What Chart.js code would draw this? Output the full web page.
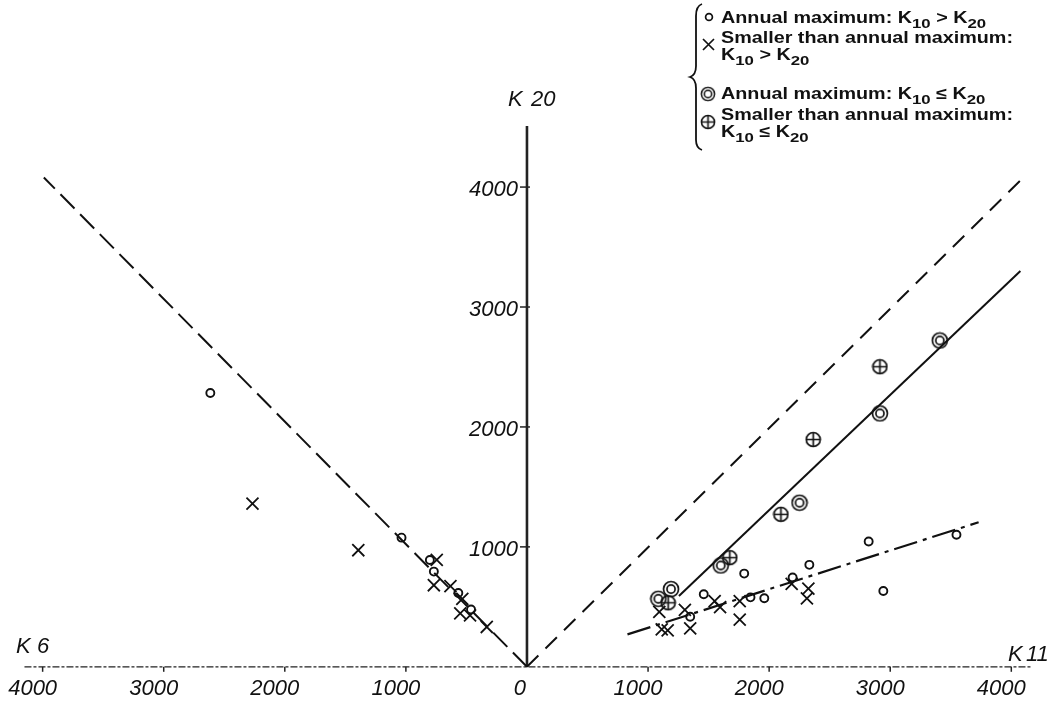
<!DOCTYPE html>
<html>
<head>
<meta charset="utf-8">
<script src="https://cdn.jsdelivr.net/npm/chart.js@4.4.0/dist/chart.umd.min.js"></script>
<style>
html,body{margin:0;padding:0;background:#fff;}
#wrap{width:1056px;height:715px;position:relative;}
</style>
</head>
<body>
<div id="wrap"><canvas id="myChart"></canvas></div>
<script>
// K6 is drawn on the negative side of x, K11 on the positive side, K20 upward
var xTicks = [-4000, -3000, -2000, -1000, 0, 1000, 2000, 3000, 4000];
var yTicks = [1000, 2000, 3000, 4000];

// o  Annual maximum: K10 > K20
var annualGt = [
	[-2615, 2283], [-1036, 1077], [-802, 891], [-769, 794], [-567, 615], [-462, 478],
	[1460, 605], [1348, 417], [1846, 579], [1960, 571], [1794, 777], [2194, 745],
	[2332, 850], [2822, 1045], [2943, 632], [3547, 1101]
];
// x  Smaller than annual maximum: K10 > K20
var smallerGt = [
	[-2267, 1360], [-1393, 972], [-745, 891], [-769, 680], [-632, 672], [-534, 567],
	[-551, 445], [-470, 429], [-332, 332],
	[1093, 458], [1304, 474], [1113, 312], [1162, 304], [1348, 320], [1550, 547],
	[1595, 498], [1757, 547], [1757, 393], [2186, 692], [2324, 652], [2312, 571]
];
// double circle  Annual maximum: K10 <= K20
var annualLe = [
	[1085, 567], [1190, 648], [1600, 845], [2251, 1368], [2915, 2113], [3409, 2721]
];
// crossed circle  Smaller than annual maximum: K10 <= K20
var smallerLe = [
	[1166, 534], [1675, 910], [2097, 1271], [2364, 1895], [2915, 2502]
];

// reference lines
var lineK6 = [[0, 0], [-3990, 4080]];
var lineK11 = [[0, 0], [4080, 4060]];
var lineSolid = [[1255, 590], [4075, 3300]];
var lineDashDot = [[830, 270], [3730, 1205]];

function pts(arr){
	return arr.map(function(p){ return {x: p[0], y: p[1]}; });
}

// 원 모양 마커 (◎, ⊗)
function makeMarker(kind, size){
	var c = document.createElement('canvas');
	c.width = size; c.height = size;
	var g = c.getContext('2d');
	var m = size / 2;
	g.strokeStyle = '#111';
	g.lineWidth = 1.7;
	g.beginPath(); g.arc(m, m, m - 1.5, 0, Math.PI * 2); g.stroke();
	if (kind == 'double') {
		g.beginPath(); g.arc(m, m, m * 0.45, 0, Math.PI * 2); g.stroke();
	} else {
		g.beginPath();
		g.moveTo(m, 2); g.lineTo(m, size - 2);
		g.moveTo(2, m); g.lineTo(size - 2, m);
		g.stroke();
	}
	return c;
}
var markDouble = makeMarker('double', 18);
var markCross = makeMarker('cross', 17);

function lineSet(arr, dash, width){
	return {
		data: pts(arr), showLine: true, pointRadius: 0, borderColor: '#111',
		borderWidth: width, borderDash: dash, fill: false
	};
}

var axesPlugin = {
	id: 'axes',
	beforeDatasetsDraw: function(chart){
		var ctx = chart.ctx, xs = chart.scales.x, ys = chart.scales.y;
		var x0 = xs.getPixelForValue(0), y0 = ys.getPixelForValue(0);
		ctx.save();
		ctx.strokeStyle = '#222';
		// x axis (thin, broken)
		ctx.lineWidth = 1.2;
		ctx.setLineDash([7, 2, 3, 2]);
		ctx.beginPath();
		ctx.moveTo(xs.getPixelForValue(-4150), y0);
		ctx.lineTo(xs.getPixelForValue(4170), y0);
		ctx.stroke();
		ctx.setLineDash([]);
		// y axis
		ctx.lineWidth = 2.6;
		ctx.beginPath();
		ctx.moveTo(x0, y0);
		ctx.lineTo(x0, ys.getPixelForValue(4510));
		ctx.stroke();
		// ticks
		ctx.lineWidth = 1.5;
		ctx.fillStyle = '#111';
		ctx.font = 'italic 22px "Liberation Sans"';
		ctx.textBaseline = 'alphabetic';
		xTicks.forEach(function(v){
			var px = xs.getPixelForValue(v);
			if (v != 0) {
				ctx.beginPath(); ctx.moveTo(px, y0); ctx.lineTo(px, y0 + 5); ctx.stroke();
			}
			ctx.textAlign = 'center';
			ctx.fillText(String(Math.abs(v)), px - (v == 0 ? 7 : 10), y0 + 28);
		});
		yTicks.forEach(function(v){
			var py = ys.getPixelForValue(v);
			ctx.beginPath(); ctx.moveTo(x0 - 7, py); ctx.lineTo(x0 + 3, py); ctx.stroke();
			ctx.textAlign = 'right';
			ctx.fillText(String(v), x0 - 9, py + 9);
		});
		// axis names
		ctx.textAlign = 'left';
		ctx.fillText('K', 16, y0 - 14);
		ctx.fillText('6', 37, y0 - 14);
		ctx.fillText('K', 1008, y0 - 6);
		ctx.fillText('11', 1026, y0 - 6);
		ctx.fillText('K', 508, 106);
		ctx.fillText('20', 531, 106);
		ctx.restore();
	},
	afterDraw: function(chart){
		var ctx = chart.ctx;
		ctx.save();
		ctx.strokeStyle = '#111';
		ctx.fillStyle = '#111';
		// brace
		ctx.lineWidth = 1.8;
		ctx.beginPath();
		ctx.moveTo(702, 4);
		ctx.quadraticCurveTo(696, 6, 696, 16);
		ctx.lineTo(696, 66);
		ctx.quadraticCurveTo(696, 75, 690, 77);
		ctx.quadraticCurveTo(696, 79, 696, 88);
		ctx.lineTo(696, 140);
		ctx.quadraticCurveTo(696, 148, 702, 150);
		ctx.stroke();

		// legend markers
		ctx.lineWidth = 1.7;
		ctx.beginPath(); ctx.arc(709, 17, 3.4, 0, Math.PI * 2); ctx.stroke();
		ctx.beginPath();
		ctx.moveTo(703, 39); ctx.lineTo(714, 50);
		ctx.moveTo(714, 39); ctx.lineTo(703, 50);
		ctx.stroke();
		ctx.drawImage(markDouble, 700, 86, 16, 16);
		ctx.drawImage(markCross, 700, 114, 16, 16);

		// legend text
		var F = 16;
		ctx.font = 'bold ' + F + 'px "Liberation Sans"';
		var sx = 292 / ctx.measureText('Smaller than annual maximum:').width;
		function txt(parts, x, y){
			ctx.save();
			ctx.translate(x, y);
			ctx.scale(sx, 1);
			var cx = 0;
			parts.forEach(function(p){
				var sub = p.charAt(0) == '_';
				var s = sub ? p.slice(1) : p;
				ctx.font = 'bold ' + (sub ? F * 0.85 : F) + 'px "Liberation Sans"';
				ctx.fillText(s, cx, sub ? 5 : 0);
				cx += ctx.measureText(s).width;
			});
			ctx.restore();
		}
		ctx.textAlign = 'left';
		txt(['Annual maximum: K', '_10', ' > K', '_20'], 721, 23);
		txt(['Smaller than annual maximum:'], 721, 43);
		txt(['K', '_10', ' > K', '_20'], 721, 60);
		txt(['Annual maximum: K', '_10', ' \u2264 K', '_20'], 721, 99);
		txt(['Smaller than annual maximum:'], 721, 120);
		txt(['K', '_10', ' \u2264 K', '_20'], 721, 137);
		ctx.restore();
	}
};

new Chart(document.getElementById('myChart'), {
	type: 'scatter',
	data: {
		datasets: [
			lineSet(lineK6, [20, 8], 2),
			lineSet(lineK11, [16, 10], 2),
			lineSet(lineSolid, [], 2),
			lineSet(lineDashDot, [24, 6, 4, 6], 2.2),
			{ data: pts(annualGt), pointStyle: 'circle', pointRadius: 4, borderWidth: 1.9,
				borderColor: '#111', backgroundColor: 'rgba(0,0,0,0)' },
			{ data: pts(smallerGt), pointStyle: 'crossRot', pointRadius: 8.5, borderWidth: 1.8,
				borderColor: '#111' },
			{ data: pts(annualLe), pointStyle: markDouble, pointRadius: 9 },
			{ data: pts(smallerLe), pointStyle: markCross, pointRadius: 9 }
		]
	},
	options: {
		responsive: true,
		maintainAspectRatio: false,
		animation: false,
		layout: { padding: 0 },
		plugins: { legend: { display: false }, tooltip: { enabled: false } },
		scales: {
			x: { type: 'linear', min: -4267, max: 4284, display: false },
			y: { type: 'linear', min: -316, max: 5474, display: false }
		}
	},
	plugins: [axesPlugin]
});
</script>
</body>
</html>
